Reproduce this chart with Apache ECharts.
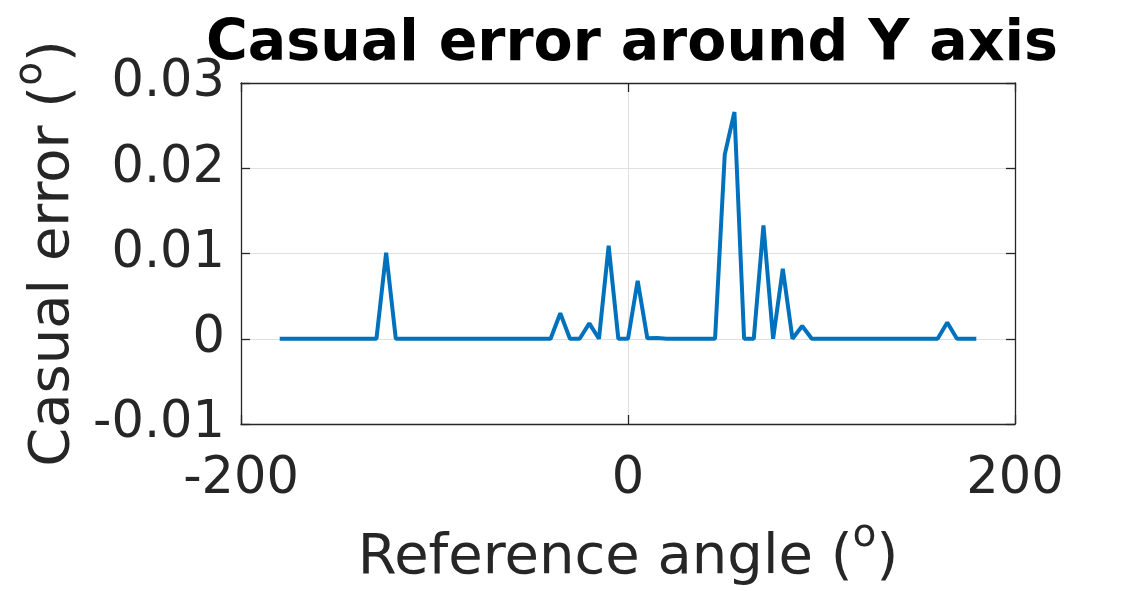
<!DOCTYPE html>
<html>
  <head>
    <meta charset="utf-8">
    <title>Casual error around Y axis</title>
    <script src="https://cdn.jsdelivr.net/npm/echarts@6/dist/echarts.min.js"></script>
    <style>
      html, body { margin: 0; padding: 0; background: #fff; }
    </style>
  </head>
  <body>
    <div id="chart" style="width: 1122px; height: 591px;"></div>
    <script type="text/javascript">
      var angles = [
        -180, -175, -170, -165, -160, -155, -150, -145, -140, -135, -130,
        -125, -120, -115, -110, -105, -100, -95, -90, -85, -80, -75, -70,
        -65, -60, -55, -50, -45, -40, -35, -30, -25, -20, -15, -10, -5,
        0, 5, 10, 15, 20, 25, 30, 35, 40, 45, 50, 55, 60, 65, 70, 75, 80,
        85, 90, 95, 100, 105, 110, 115, 120, 125, 130, 135, 140, 145, 150,
        155, 160, 165, 170, 175, 180
      ];
      var errors = [
        0, 0, 0, 0, 0, 0, 0, 0, 0, 0, 0,
        0.0101, 0, 0, 0, 0, 0, 0, 0, 0, 0, 0, 0,
        0, 0, 0, 0, 0, 0, 0.0030, 0, 0, 0.0018, 0, 0.0109, 0,
        0, 0.0068, 0.00005, 0.0001, 0, 0, 0, 0, 0, 0, 0.0216, 0.0266, 0, 0, 0.0133, 0, 0.0082,
        0, 0.0015, 0, 0, 0, 0, 0, 0, 0, 0, 0, 0, 0, 0,
        0, 0, 0.0019, 0, 0, 0
      ];
      var xTicks = [-200, 0, 200];
      var yTicks = [-0.01, 0, 0.01, 0.02, 0.03];

      var font = "DejaVu Sans";
      var textColor = "#262626";
      var chartElem = echarts.init(document.getElementById("chart"));

      var points = angles.map(function (a, i) { return [a, errors[i]]; });

      // superscript "o" for the degree sign: short token box pinned to the top of the line
      var supRich = {
        sup: { fontSize: 39, fontFamily: font, color: textColor, verticalAlign: "top", height: 12 }
      };

      var boxAxis = {
        axisLine: { show: true, onZero: false, lineStyle: { color: textColor, width: 1.3 } },
        axisTick: { show: true, inside: true, length: 9, lineStyle: { color: textColor, width: 1.3 } },
        splitLine: { show: false },
        axisLabel: { show: false }
      };

      var option = {
        backgroundColor: "#ffffff",
        animation: false,
        title: {
          text: "Casual error around Y axis",
          left: 627,
          textAlign: "center",
          top: 12,
          textStyle: { fontFamily: font, fontWeight: "bold", fontSize: 57, color: "#000" }
        },
        grid: { left: 241, right: 107, top: 83, bottom: 164, containLabel: false },
        xAxis: [{
          type: "value",
          min: xTicks[0],
          max: xTicks[xTicks.length - 1],
          interval: 200,
          name: "Reference angle ({sup|o})",
          nameLocation: "middle",
          nameGap: 106,
          nameTextStyle: { fontFamily: font, fontSize: 56, color: textColor, rich: supRich },
          axisLine: { show: true, onZero: false, lineStyle: { color: textColor, width: 1.3 } },
          axisTick: { show: true, inside: true, length: 9, lineStyle: { color: textColor, width: 1.3 } },
          splitLine: { show: true, lineStyle: { color: "#e0e0e0", width: 1 } },
          axisLabel: { fontFamily: font, fontSize: 51, color: textColor, margin: 30 }
        }, Object.assign({
          type: "value",
          position: "top",
          min: xTicks[0],
          max: xTicks[xTicks.length - 1],
          interval: 200
        }, boxAxis)],
        yAxis: [{
          type: "value",
          min: yTicks[0],
          max: yTicks[yTicks.length - 1],
          interval: 0.01,
          name: "Casual error ({sup|o})",
          nameLocation: "middle",
          nameGap: 160,
          nameTextStyle: { fontFamily: font, fontSize: 56, color: textColor, rich: supRich },
          axisLine: { show: true, onZero: false, lineStyle: { color: textColor, width: 1.3 } },
          axisTick: { show: true, inside: true, length: 9, lineStyle: { color: textColor, width: 1.3 } },
          splitLine: { show: true, lineStyle: { color: "#e0e0e0", width: 1 } },
          axisLabel: {
            fontFamily: font, fontSize: 51, color: textColor, margin: 16,
            formatter: function (v) { return String(+v.toFixed(2)); }
          }
        }, Object.assign({
          type: "value",
          position: "right",
          min: yTicks[0],
          max: yTicks[yTicks.length - 1],
          interval: 0.01
        }, boxAxis)],
        series: [{
          type: "line",
          xAxisIndex: 0,
          yAxisIndex: 0,
          data: points,
          showSymbol: false,
          lineStyle: { color: "#0072BD", width: 4 },
          itemStyle: { color: "#0072BD" }
        }]
      };
      chartElem.setOption(option);
    </script>
  </body>
</html>
